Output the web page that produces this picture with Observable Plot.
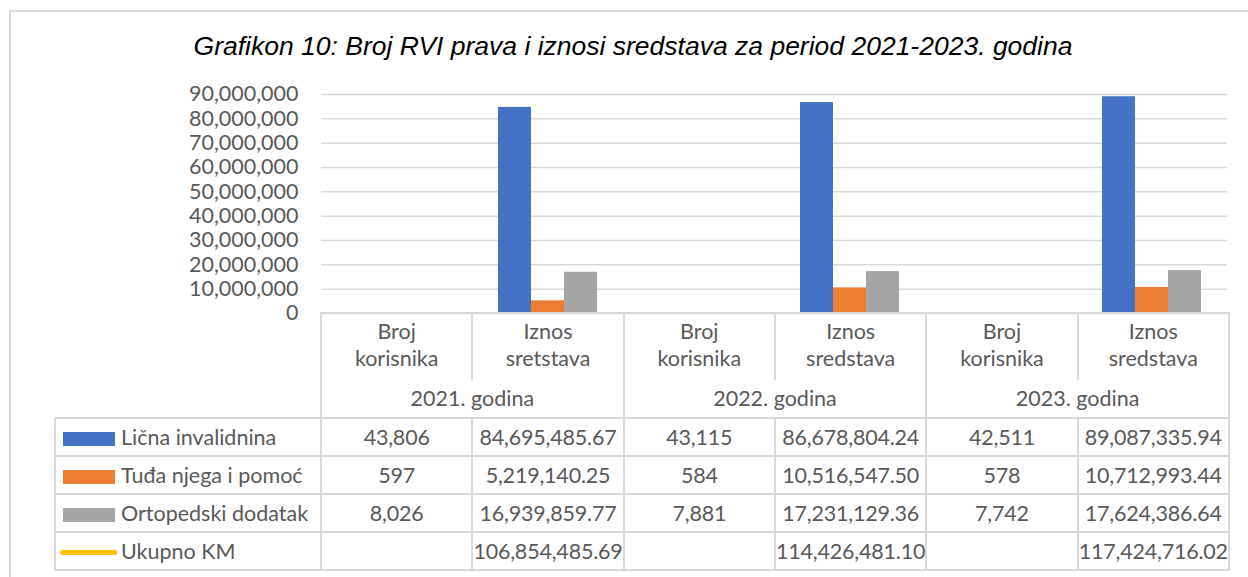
<!DOCTYPE html>
<html><head><meta charset="utf-8">
<script src="https://cdn.jsdelivr.net/npm/d3@7"></script>
<script src="https://cdn.jsdelivr.net/npm/@observablehq/plot@0.6"></script>
<style>
html,body{margin:0;padding:0;background:#fff;}
#wrap{position:relative;width:1248px;height:577px;overflow:hidden;background:#fff;font-family:Lato,"Open Sans",sans-serif;color:#595959;}
#frame{position:absolute;left:9px;top:10px;width:1400px;height:800px;border:2px solid #d9d9d9;box-sizing:border-box;}
#title{position:absolute;left:0;width:1266px;top:33px;text-align:center;font-family:"Liberation Sans",Arial,sans-serif;font-style:italic;font-size:26.5px;line-height:26px;color:#000;white-space:nowrap;}
#chart{position:absolute;left:0;top:0;}
#tbl{position:absolute;left:54px;top:312px;border-collapse:collapse;table-layout:fixed;font-size:21.5px;color:#595959;}
#tbl td{border:2px solid #d9d9d9;padding:0;text-align:center;white-space:nowrap;overflow:visible;}
#tbl td.blank{border:none;}
#tbl td.h1{border-bottom:none;vertical-align:top;padding-top:4px;line-height:27px;height:62px;}
#tbl td.h2{border-top:none;height:37px;line-height:37px;vertical-align:middle;}
#tbl td.d{height:36px;line-height:36px;}
#tbl td.num{letter-spacing:-0.2px;}
#tbl td.leg{text-align:left;padding-left:7px;}
.sw{display:inline-block;width:52px;height:14px;margin-right:6px;vertical-align:-1px;}
.ln{display:inline-block;width:57px;height:5px;border-radius:3px;margin-left:-3px;margin-right:4px;vertical-align:4px;}
</style>
</head><body>
<div id="wrap">
  <div id="frame"></div>
  <div id="title"></div>
  <div id="chart"></div>
</div>
<script>
const title = "Grafikon 10: Broj RVI prava i iznosi sredstava za period 2021-2023. godina";
const years = ["2021. godina", "2022. godina", "2023. godina"];
const measures = [["Broj korisnika", "Iznos sretstava"], ["Broj korisnika", "Iznos sredstava"], ["Broj korisnika", "Iznos sredstava"]];
const series = ["Lična invalidnina", "Tuđa njega i pomoć", "Ortopedski dodatak"];
const colors = ["#4472C4", "#ED7D31", "#A5A5A5"];
const licna = [43806, 84695485.67, 43115, 86678804.24, 42511, 89087335.94];
const tudja = [597, 5219140.25, 584, 10516547.50, 578, 10712993.44];
const orto = [8026, 16939859.77, 7881, 17231129.36, 7742, 17624386.64];
const ukupnoLabel = "Ukupno KM";
const ukupnoColor = "#FFC000";
const ukupno = [null, 106854485.69, null, 114426481.10, null, 117424716.02];
const yTicks = [0, 10000000, 20000000, 30000000, 40000000, 50000000, 60000000, 70000000, 80000000, 90000000];

const seriesValues = [licna, tudja, orto];
const catKeys = [];
const catLabels = [];
years.forEach((y, i) => measures[i].forEach(m => { catKeys.push(y + "|" + m); catLabels.push(m); }));
const rows = [];
catKeys.forEach((c, j) => series.forEach((s, k) => rows.push({cat: c, series: s, value: seriesValues[k][j]})));

document.getElementById("title").textContent = title;

const chart = Plot.plot({
  width: 1248, height: 320,
  marginLeft: 320, marginRight: 20, marginTop: 94, marginBottom: 7,
  facet: {data: rows, x: "cat"},
  fx: {domain: catKeys, padding: 0, axis: null},
  x: {domain: series, paddingInner: 0, paddingOuter: 0.75, axis: null},
  y: {domain: [0, 90000000], ticks: yTicks, tickFormat: d3.format(","), tickSize: 0, tickPadding: 23, label: null},
  color: {domain: series, range: colors},
  style: {fontFamily: "Lato, 'Open Sans', sans-serif", fontSize: "21.5px", color: "#595959", background: "transparent", overflow: "visible"},
  marks: [
    Plot.ruleY(yTicks, {stroke: "#d9d9d9", strokeWidth: 1.5}),
    Plot.barY(rows, {x: "series", y: "value", fill: "series", inset: 0})
  ]
});
document.getElementById("chart").appendChild(chart);

// data table
const fmtInt = d3.format(",");
const fmtDec = d3.format(",.2f");
const legW = 266;
const colW = (1228 - 320) / 6;
let html = `<colgroup><col style="width:${legW}px">` + catKeys.map(() => `<col style="width:${colW}px">`).join("") + '</colgroup>';
html += '<tr><td class="blank"></td>' + catLabels.map(l => `<td class="h1">${l.replace(" ", "<br>")}</td>`).join("") + '</tr>';
html += '<tr><td class="blank"></td>' + years.map(y => `<td class="h2" colspan="2">${y}</td>`).join("") + '</tr>';
series.forEach((s, k) => {
  html += `<tr><td class="d leg"><span class="sw" style="background:${colors[k]}"></span>${s}</td>` +
    seriesValues[k].map((v, j) => `<td class="d num">${j % 2 === 0 ? fmtInt(v) : fmtDec(v)}</td>`).join("") + '</tr>';
});
html += `<tr><td class="d leg"><span class="ln" style="background:${ukupnoColor}"></span>${ukupnoLabel}</td>` +
  ukupno.map(v => `<td class="d num">${v == null ? "" : fmtDec(v)}</td>`).join("") + '</tr>';
const tbl = document.createElement("table");
tbl.id = "tbl";
tbl.style.width = (legW + 6 * colW) + "px";
tbl.innerHTML = html;
document.getElementById("wrap").appendChild(tbl);
</script>
</body></html>
